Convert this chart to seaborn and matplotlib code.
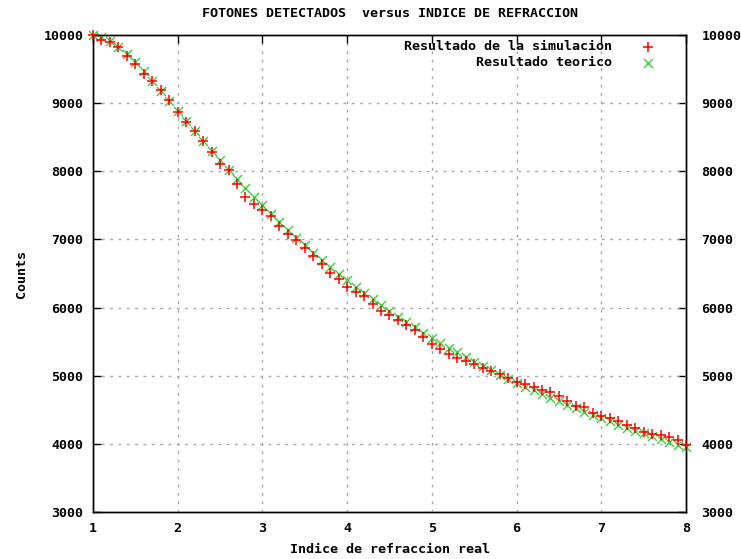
import matplotlib
matplotlib.use("Agg")
import matplotlib.pyplot as plt
import seaborn as sns
import pandas as pd

# ---- data ----
indice = [1.0, 1.1, 1.2, 1.3, 1.4, 1.5, 1.6, 1.7, 1.8, 1.9,
          2.0, 2.1, 2.2, 2.3, 2.4, 2.5, 2.6, 2.7, 2.8, 2.9,
          3.0, 3.1, 3.2, 3.3, 3.4, 3.5, 3.6, 3.7, 3.8, 3.9,
          4.0, 4.1, 4.2, 4.3, 4.4, 4.5, 4.6, 4.7, 4.8, 4.9,
          5.0, 5.1, 5.2, 5.3, 5.4, 5.5, 5.6, 5.7, 5.8, 5.9,
          6.0, 6.1, 6.2, 6.3, 6.4, 6.5, 6.6, 6.7, 6.8, 6.9,
          7.0, 7.1, 7.2, 7.3, 7.4, 7.5, 7.6, 7.7, 7.8, 7.9, 8.0]

simulacion = [10000, 9932, 9897, 9820, 9687, 9580, 9428, 9328, 9194, 9042,
              8876, 8726, 8594, 8443, 8280, 8113, 8015, 7819, 7626, 7527,
              7435, 7340, 7203, 7086, 6998, 6867, 6754, 6643, 6511, 6413,
              6306, 6227, 6168, 6057, 5949, 5890, 5817, 5744, 5666, 5574,
              5466, 5388, 5315, 5266, 5217, 5168, 5120, 5070, 5022, 4963,
              4915, 4875, 4841, 4788, 4754, 4704, 4636, 4549, 4534, 4456,
              4409, 4377, 4336, 4282, 4234, 4181, 4149, 4127, 4101, 4057, 3990]

teorico = [10000, 9977, 9917, 9830, 9722, 9600, 9468, 9328, 9184, 9037,
           8889, 8741, 8594, 8448, 8305, 8163, 8025, 7889, 7756, 7627,
           7500, 7377, 7256, 7139, 7025, 6914, 6805, 6700, 6597, 6497,
           6400, 6305, 6213, 6123, 6036, 5950, 5867, 5786, 5708, 5631,
           5556, 5482, 5411, 5341, 5273, 5207, 5142, 5079, 5017, 4957,
           4898, 4840, 4784, 4729, 4675, 4622, 4571, 4520, 4471, 4422,
           4375, 4329, 4283, 4239, 4195, 4152, 4110, 4069, 4029, 3989, 3951]

x_ticks = [1, 2, 3, 4, 5, 6, 7, 8]
y_ticks = [3000, 4000, 5000, 6000, 7000, 8000, 9000, 10000]

label_sim = "Resultado de la simulacion"
label_teo = "Resultado teorico"
titulo = "FOTONES DETECTADOS  versus INDICE DE REFRACCION"
x_label = "Indice de refraccion real"
y_label = "Counts"

df = pd.DataFrame({"indice": indice, "simulacion": simulacion, "teorico": teorico})

# ---- style ----
sns.set_style("white")
plt.rcParams["font.family"] = ["DejaVu Sans Mono", "DejaVu Sans"]
plt.rcParams["font.weight"] = "bold"
plt.rcParams["text.color"] = "black"
plt.rcParams["axes.labelcolor"] = "black"
plt.rcParams["xtick.color"] = "black"
plt.rcParams["ytick.color"] = "black"
FS = 9.6

fig = plt.figure(figsize=(7.41, 5.59), dpi=100)
rect = [93 / 741, 1 - 512 / 559, (686 - 93) / 741, (512 - 35) / 559]
ax = fig.add_axes(rect)

sns.scatterplot(data=df, x="indice", y="simulacion", ax=ax, marker="+",
                color="#ff0000", s=46, linewidth=1.1, label=label_sim, zorder=3,
                clip_on=False)
sns.scatterplot(data=df, x="indice", y="teorico", ax=ax, marker="x",
                color="#3ccf3c", s=42, linewidth=1.0, label=label_teo, zorder=2,
                clip_on=False)

ax.set_xlim(1, 8)
ax.set_ylim(3000, 10000)
ax.set_xticks(x_ticks)
ax.set_yticks(y_ticks)
ax.set_xticklabels([str(v) for v in x_ticks], fontsize=FS, fontweight="bold")
ax.set_yticklabels([str(v) for v in y_ticks], fontsize=FS, fontweight="bold")

ax.tick_params(axis="both", which="major", direction="in", length=6, width=1,
               color="black", labelcolor="black", top=True, right=False,
               labelright=False)
ax.tick_params(axis="y", which="major", pad=7)
ax.tick_params(axis="x", which="major", pad=7)

# right-hand mirrored axis labels
ax2 = ax.twinx()
ax2.set_ylim(3000, 10000)
ax2.set_yticks(y_ticks)
ax2.set_yticklabels([str(v) for v in y_ticks], fontsize=FS, fontweight="bold")
ax2.tick_params(axis="y", which="major", direction="in", length=6, width=1,
                color="black", labelcolor="black", pad=11)
ax2.grid(False)
ax.set_zorder(ax2.get_zorder() + 1)
ax.patch.set_visible(False)

for a in (ax, ax2):
    for sp in a.spines.values():
        sp.set_color("black")
        sp.set_linewidth(1.0)
        sp.set_visible(True)

ax.grid(True, color="#a8a8a8", linestyle=(0, (2, 4)), linewidth=1.0)
ax.set_axisbelow(True)

ax.set_title(titulo, fontsize=FS, fontweight="bold", pad=13, color="black")
ax.set_xlabel(x_label, fontsize=FS, fontweight="bold", labelpad=6, color="black")
ax.set_ylabel(y_label, fontsize=FS, fontweight="bold", labelpad=11, color="black")

leg = ax.legend(loc="upper right", bbox_to_anchor=(0.958, 0.9885), frameon=False,
                markerfirst=False, borderpad=0, borderaxespad=0,
                labelspacing=0.2, handletextpad=1.7, handlelength=2.0,
                scatterpoints=1,
                prop={"family": "DejaVu Sans Mono", "weight": "bold", "size": FS})
for t in leg.get_texts():
    t.set_color("black")

fig.savefig("out.png", dpi=100)
